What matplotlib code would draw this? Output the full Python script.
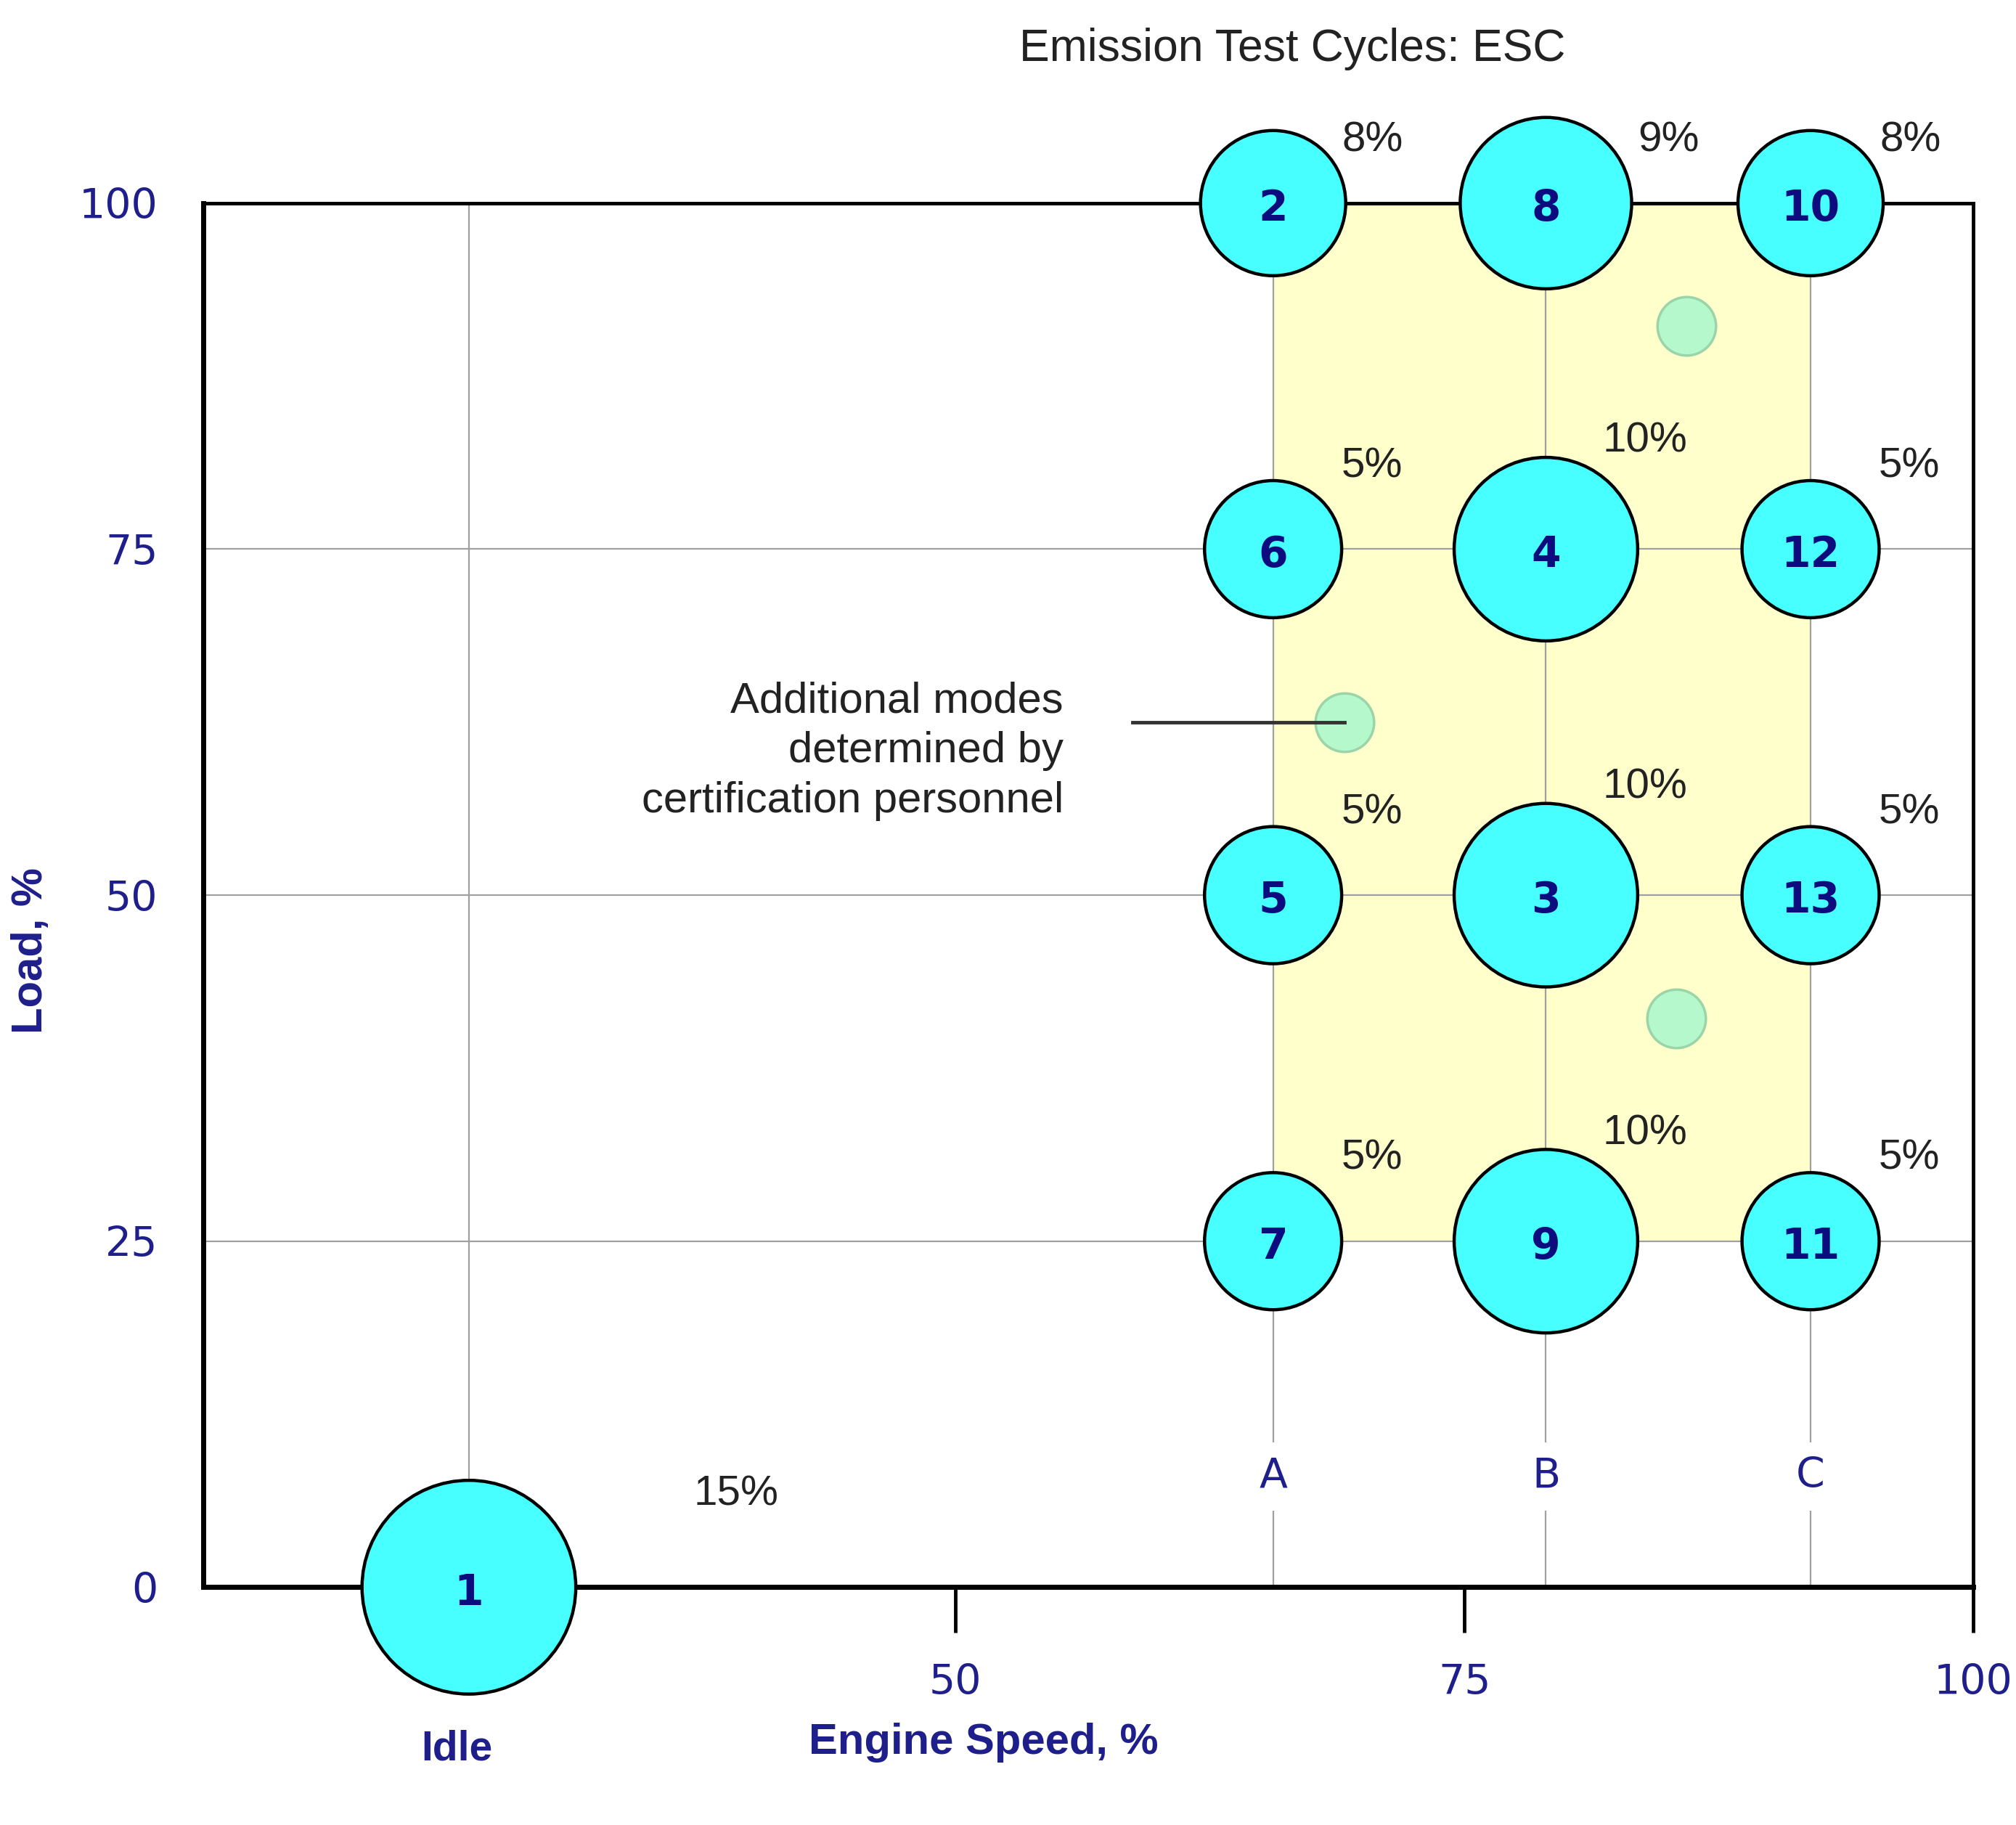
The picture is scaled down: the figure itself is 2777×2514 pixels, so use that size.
import matplotlib
matplotlib.use("Agg")
import matplotlib.pyplot as plt
import numpy as np

# ESC test modes
modes = [1, 2, 3, 4, 5, 6, 7, 8, 9, 10, 11, 12, 13]
speed = ["Idle", "A", "B", "B", "A", "A", "A", "B", "B", "C", "C", "C", "C"]
load = [0, 100, 50, 75, 50, 75, 25, 100, 25, 100, 25, 75, 50]
weight = [15, 8, 10, 10, 5, 5, 5, 9, 10, 8, 5, 5, 5]

# speed positions on the engine speed axis (%)
speed_names = ["Idle", "A", "B", "C"]
speed_pos = [26.1, 65.6, 79.0, 92.0]

# random extra modes picked by certification personnel
extra_speed = [85.9, 69.1, 85.4]
extra_load = [91.1, 62.5, 41.1]

navy = "#1f1f8c"
dark_navy = "#0c0c7e"
cyan = "#48ffff"

fig = plt.figure(figsize=(27.77, 25.14), dpi=100)
ax = fig.add_axes([0.1008, 0.1303, 0.8781, 0.7584])
ax.set_xlim(13.05, 100)
ax.set_ylim(0, 100)

xmap = dict(zip(speed_names, speed_pos))
xs = np.array([xmap[s] for s in speed])
ys = np.array(load)

# yellow zone of the A-B-C grid
ax.axvspan(xmap["A"], xmap["C"], ymin=0.25, ymax=1.0, color="#ffffcc", zorder=0)

# grid lines
for yv in [25, 50, 75]:
    ax.axhline(yv, color="#a0a0a0", lw=1.6, zorder=1)
for xv in speed_pos:
    ax.axvline(xv, color="#a0a0a0", lw=1.6, zorder=1)

# circle size scale (radius in points) by weight
w_anchor = [5, 8, 9, 10, 15]
r_anchor = [68, 72, 85, 91, 106]
radius = np.interp(weight, w_anchor, r_anchor)

# label offsets (points) by weight
lab_dx = {5: 98, 8: 99, 9: 122, 10: 98, 15: 265}
lab_dy = {5: 82, 8: 62, 9: 62, 10: 107, 15: 92}

ax.scatter(xs, ys, s=(2 * radius) ** 2, color=cyan, edgecolor="black",
           linewidth=3.2, zorder=5, clip_on=False)
for m, x, y in zip(modes, xs, ys):
    ax.text(x, y - 0.4, str(m), ha="center", va="center", fontsize=42,
            fontweight="bold", color=dark_navy, zorder=6, family="DejaVu Sans")

# weight labels
for x, y, w in zip(xs, ys, weight):
    ax.annotate(f"{w}%", (x, y), xytext=(lab_dx[w], lab_dy[w]),
                textcoords="offset points", ha="center", va="center",
                fontsize=42, color="#222222", family="Liberation Sans",
                zorder=6, annotation_clip=False)

# extra modes
ax.scatter(extra_speed, extra_load, s=(2 * 29) ** 2, color="#b4f8cc",
           edgecolor="#9cd4aa", linewidth=2.5, zorder=5)
ax.plot([58.7, extra_speed[1]], [extra_load[1], extra_load[1]],
        color="#333333", lw=3.5, zorder=6)
ax.text(55.3, extra_load[1] - 2.1, "Additional modes\ndetermined by\ncertification personnel",
        ha="right", va="center", fontsize=43, color="#222222",
        family="Liberation Sans", linespacing=1.32, zorder=6)

# A, B, C labels above the axis
for name in ["A", "B", "C"]:
    ax.text(xmap[name], 8.0, name, ha="center", va="center", fontsize=41,
            color=navy, family="DejaVu Sans", zorder=4,
            bbox=dict(facecolor="white", edgecolor="none", pad=14))

# axes frame
for side in ["left", "bottom"]:
    ax.spines[side].set_linewidth(5)
for side in ["top", "right"]:
    ax.spines[side].set_linewidth(3.5)
for sp in ax.spines.values():
    sp.set_zorder(4)

ax.set_xticks([50, 75, 100])
ax.set_yticks([0, 25, 50, 75, 100])
ax.tick_params(axis="x", direction="out", length=45, width=3.5, pad=30,
               labelsize=41, labelcolor=navy)
ax.tick_params(axis="y", length=0, pad=45, labelsize=41, labelcolor=navy)

ax.text(xmap["Idle"] - 0.6, -11.7, "Idle", ha="center", va="center",
        fontsize=41, color=navy, family="Liberation Sans", fontweight="bold")
ax.set_xlabel("Engine Speed, %", fontsize=43, fontweight="bold", color=navy,
              family="Liberation Sans", x=0.441, labelpad=20)
ax.set_ylabel("Load, %", fontsize=43, fontweight="bold", color=navy,
              family="Liberation Sans", labelpad=28)
ax.yaxis.label.set_y(0.46)

fig.text(0.641, 0.973, "Emission Test Cycles: ESC", ha="center", va="center",
         fontsize=45, color="#222222", family="Liberation Sans")

fig.savefig("out.png", dpi=100)
